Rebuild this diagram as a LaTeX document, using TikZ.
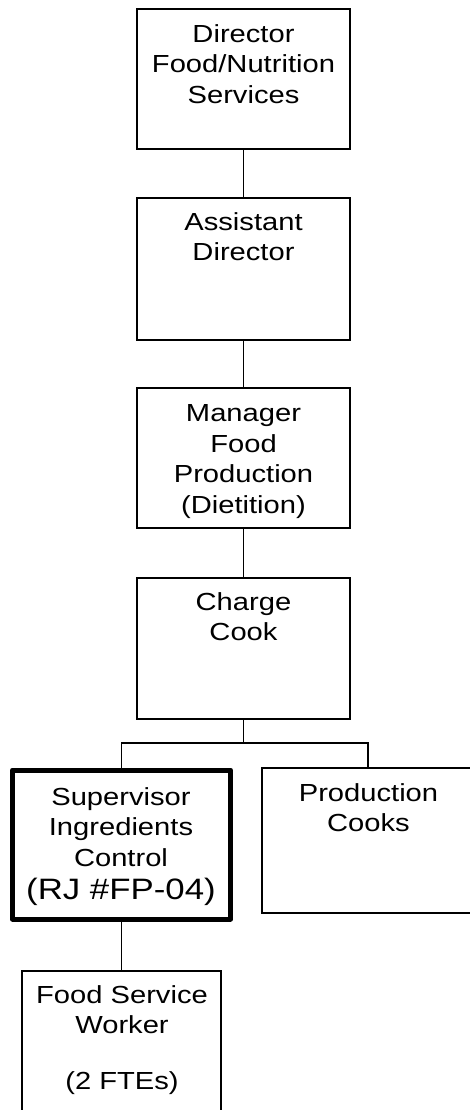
\documentclass[tikz,border=0pt]{standalone}
\usepackage{fontspec}
\setmainfont[FakeStretch=1.18]{Liberation Sans}
\newcommand\myst{\rule{0pt}{18pt}}
\begin{document}
\begin{tikzpicture}[x=1pt,y=-1pt,
  boxa/.style={draw,line width=1.8pt,rectangle,inner sep=0pt},
  boxsup/.style={draw,line width=5pt,rectangle,inner sep=0pt,line join=round},
  lbl/.style={anchor=north,align=center,inner sep=0pt,font=\fontsize{24.7}{30.5}\selectfont},
  conn/.style={line width=1.8pt}]
\fill[white] (0,0) rectangle (469,1110);
\useasboundingbox (0,0) rectangle (469,1110);
% boxes
\node[boxa,minimum width=213pt,minimum height=140pt] (b1) at (243.5,79) {};
\node[boxa,minimum width=213pt,minimum height=142pt] (b2) at (243.5,269) {};
\node[boxa,minimum width=213pt,minimum height=140pt] (b3) at (243.5,458) {};
\node[boxa,minimum width=213pt,minimum height=141pt] (b4) at (243.5,648.5) {};
\node[boxsup,minimum width=218pt,minimum height=149pt] (sup) at (121.5,844.5) {};
\node[boxa,minimum width=212pt,minimum height=145pt] (pc) at (368,840.5) {};
\node[boxa,minimum width=199pt,minimum height=170pt] (fsw) at (121.5,1056) {};
% texts
\node[lbl] (t1) at (243.5,24) {\myst Director\\Food/Nutrition\\Services};
\node[lbl] (t2) at (243.5,212) {\myst Assistant\\Director};
\node[lbl] (t3) at (243.5,403.7) {\myst Manager\\Food\\Production\\(Dietition)};
\node[lbl] (t4) at (243.5,592) {\myst Charge\\Cook};
\node[lbl] (tsup) at (121,787) {\myst Supervisor\\Ingredients\\Control\\[2.5pt]{\fontsize{29.5}{30.5}\selectfont (RJ \#FP-04)}};
\node[lbl] (tpc) at (368.5,783) {\myst Production\\Cooks};
\node[lbl] (tfsw) at (122,985) {\myst Food Service\\Worker\\[25.5pt](2 FTEs)};
% connectors
\coordinate (bus) at (243.5,743);
\draw[conn] (b1.south) -- (b2.north);
\draw[conn] (b2.south) -- (b3.north);
\draw[conn] (b3.south) -- (b4.north);
\draw[conn] (b4.south) -- (bus);
\draw[conn] (sup.north) |- (bus) -| (pc.north);
\draw[conn] (sup.south) -- (fsw.north);
\end{tikzpicture}
\end{document}
